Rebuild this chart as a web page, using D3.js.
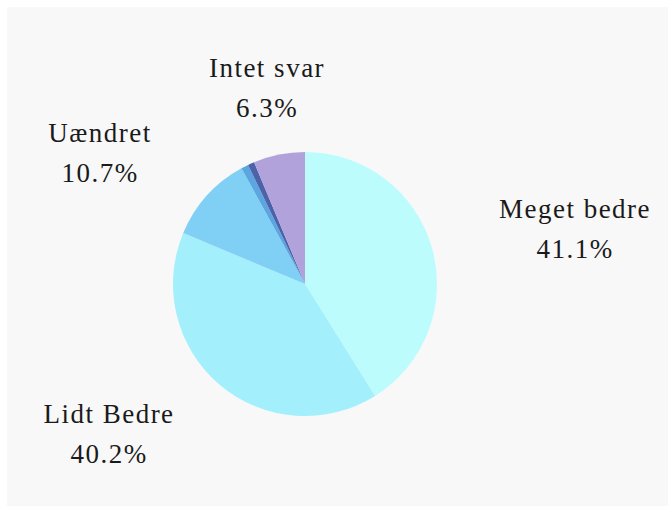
<!DOCTYPE html>
<html><head><meta charset="utf-8">
<script src="https://cdn.jsdelivr.net/npm/d3@7"></script>
<style>body{margin:0;background:#fff}</style>
</head><body>
<svg id="c" width="668" height="506"></svg>
<script>
const categories = ["Meget bedre","Lidt Bedre","Uændret","Andet","Ved ikke","Intet svar"];
const values = [41.1, 40.2, 10.7, 0.9, 0.8, 6.3];
const labels = ["41.1%","40.2%","10.7%","","","6.3%"];
const colors = ["#bcfcfd","#a3f0fc","#80cff5","#5ba5e0","#4c63a9","#b2a2dc"];
const showLabel = [true,true,true,false,false,true];

const svg = d3.select("#c");
svg.append("rect").attr("x",7).attr("y",7).attr("width",661).attr("height",499).attr("fill","#f8f8f8");

const cx = 305, cy = 284, r = 132;
const pie = d3.pie().sort(null).value(d=>d.v);
const arcs = pie(categories.map((c,i)=>({c, v: values[i], i})));
const arc = d3.arc().innerRadius(0).outerRadius(r);
const g = svg.append("g").attr("transform",`translate(${cx},${cy})`);
g.selectAll("path").data(arcs).join("path")
  .attr("d", arc).attr("fill", d=>colors[d.data.i]);

// label anchor positions (relative to centre)
const labelPos = {0:[270,-66], 1:[-196,139], 2:[-205,-142], 5:[-38,-207]};
const lg = svg.append("g").attr("transform",`translate(${cx},${cy})`);
arcs.forEach(d=>{
  const i = d.data.i;
  if(!showLabel[i]) return;
  const [x,y] = labelPos[i];
  const t = lg.append("text").attr("text-anchor","middle")
    .attr("font-family","Liberation Serif, serif").attr("font-size",27)
    .attr("letter-spacing",1.5).attr("fill","#1a1a1a");
  t.append("tspan").attr("x",x).attr("y",y).text(categories[i]);
  t.append("tspan").attr("x",x).attr("y",y+40).text(labels[i]);
});
</script>
</body></html>
